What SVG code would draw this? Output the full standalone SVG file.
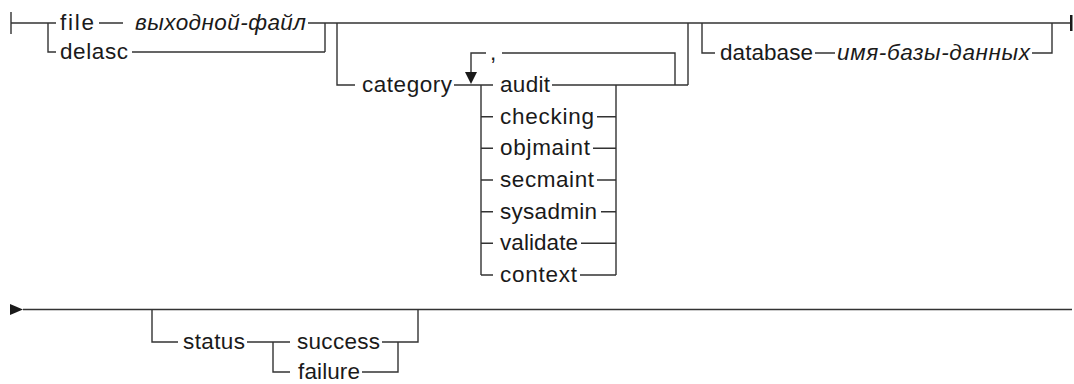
<svg xmlns="http://www.w3.org/2000/svg" width="1074" height="384" viewBox="0 0 1074 384">
<defs>
<style>
.l{fill:none;stroke:#333;stroke-width:1.4}
.t{font-family:"Liberation Sans",Arial,sans-serif;font-size:22.5px;fill:#1a1a1a}
.i{font-style:italic}
</style>
</defs>
<rect width="1074" height="384" fill="#fff"/>
<g id="connectors">
<path class="l" d="M11 12V34M11 23H56M99 23H123M308 23H1070M48 23V52H56M132 52H325M325 23V52"/>
<path class="l" d="M337 23V85H355M454 85H481M552 85H688M688 23V85"/>
<path class="l" d="M471 72V53H486M502 53H675V85"/>
<polygon points="465,72 477,72 471,84" fill="#1a1a1a"/>
<path class="l" d="M481 85V275M616 85V275"/>
<path class="l" d="M481 85H493M481 116.7H493M481 148.3H493M481 180H493M481 211.7H493M481 243.3H493M481 275H493"/>
<path class="l" d="M597 116.7H616M593 148.3H616M597 180H616M601 211.7H616M581 243.3H616M580 275H616"/>
<path class="l" d="M702 23V53H715M815 53H835M1032 53H1052V23"/>
<rect x="1070" y="15" width="2.5" height="16" fill="#1a1a1a"/>
<polygon points="10,304 23,309.5 10,315" fill="#1a1a1a"/>
<path class="l" d="M23 309.5H1072"/>
<path class="l" d="M152 309.5V342H178M247 342H290M273 342V372H290M382 342H398V372H362M398 342H418V309.5"/>
</g>
<g id="n-file"><text class="t" x="60" y="30" textLength="34" lengthAdjust="spacing">file</text></g>
<g id="n-outfile"><text class="t i" x="135" y="30" textLength="171" lengthAdjust="spacing">выходной-файл</text></g>
<g id="n-delasc"><text class="t" x="60" y="59" textLength="68" lengthAdjust="spacing">delasc</text></g>
<g id="n-category"><text class="t" x="362" y="92" textLength="90" lengthAdjust="spacing">category</text></g>
<g id="n-comma"><text class="t" x="490" y="60">,</text></g>
<g id="n-audit"><text class="t" x="500" y="92" textLength="50" lengthAdjust="spacing">audit</text></g>
<g id="n-checking"><text class="t" x="500" y="123.7" textLength="94" lengthAdjust="spacing">checking</text></g>
<g id="n-objmaint"><text class="t" x="500" y="155.3" textLength="90" lengthAdjust="spacing">objmaint</text></g>
<g id="n-secmaint"><text class="t" x="500" y="187" textLength="94" lengthAdjust="spacing">secmaint</text></g>
<g id="n-sysadmin"><text class="t" x="500" y="218.7" textLength="97" lengthAdjust="spacing">sysadmin</text></g>
<g id="n-validate"><text class="t" x="500" y="250.3" textLength="78" lengthAdjust="spacing">validate</text></g>
<g id="n-context"><text class="t" x="500" y="282" textLength="77" lengthAdjust="spacing">context</text></g>
<g id="n-database"><text class="t" x="720" y="60" textLength="93" lengthAdjust="spacing">database</text></g>
<g id="n-dbname"><text class="t i" x="837" y="60" textLength="193" lengthAdjust="spacing">имя-базы-данных</text></g>
<g id="n-status"><text class="t" x="183" y="349" textLength="62" lengthAdjust="spacing">status</text></g>
<g id="n-success"><text class="t" x="297" y="349" textLength="83" lengthAdjust="spacing">success</text></g>
<g id="n-failure"><text class="t" x="298" y="379" textLength="62" lengthAdjust="spacing">failure</text></g>
</svg>
